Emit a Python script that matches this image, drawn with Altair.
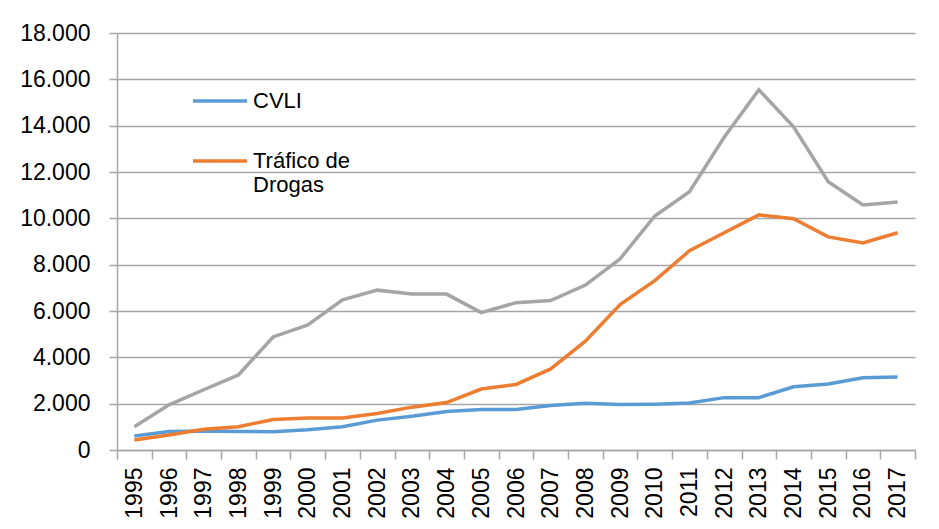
import altair as alt
import pandas as pd

years = [str(y) for y in range(1995, 2018)]
cvli = [600, 800, 820, 800, 790, 870, 1000, 1290, 1460, 1660, 1750, 1750, 1920, 2020,
        1960, 1980, 2030, 2260, 2260, 2730, 2850, 3120, 3150]
trafico = [430, 650, 900, 1000, 1320, 1380, 1380, 1580, 1850, 2050, 2630, 2830, 3500, 4700,
           6280, 7310, 8600, 9380, 10150, 9980, 9200, 8940, 9380]
outros = [1000, 1950, 2600, 3240, 4880, 5400, 6480, 6900, 6730, 6730, 5930, 6360, 6450, 7120,
          8250, 10100, 11150, 13500, 15550, 13950, 11580, 10580, 10710]

series_names = ["CVLI", "Tráfico de Drogas", "Outros"]
colors = ["#5B9BD5", "#ED7D31", "#A5A5A5"]

rows = []
for name, vals in zip(series_names, [cvli, trafico, outros]):
    for y, v in zip(years, vals):
        rows.append({"Ano": y, "Serie": name, "Valor": v})
df = pd.DataFrame(rows)

FONT = "Liberation Sans"

chart = alt.Chart(df).mark_line(strokeWidth=3.5).encode(
    x=alt.X("Ano:O", title=None, bandPosition=0.5,
            scale=alt.Scale(type="band", paddingInner=0, paddingOuter=0),
            axis=alt.Axis(labelAngle=-90, labelAlign="right", labelBaseline="middle",
                          tickBand="extent", tickSize=9, tickColor="#A6A6A6",
                          domainColor="#A6A6A6", labelPadding=8, labelFontSize=23,
                          labelColor="#000000", labelFont=FONT, grid=False)),
    y=alt.Y("Valor:Q", title=None,
            scale=alt.Scale(domain=[0, 18000], nice=False),
            axis=alt.Axis(values=list(range(0, 18001, 2000)), tickSize=8,
                          tickColor="#A6A6A6", domainColor="#A6A6A6",
                          gridColor="#A6A6A6", gridWidth=1.5, labelPadding=19,
                          labelFontSize=23, labelColor="#000000", labelFont=FONT,
                          labelExpr="datum.value == 0 ? '0' : replace(format(datum.value, ',d'), ',', '.')")),
    color=alt.Color("Serie:N", scale=alt.Scale(domain=series_names, range=colors),
                    legend=alt.Legend(title=None, orient="none", legendX=74, legendY=39,
                                      values=["CVLI", "Tráfico de Drogas"],
                                      symbolType="stroke", symbolSize=2916,
                                      symbolStrokeWidth=3.5, labelOffset=4,
                                      labelFontSize=22, labelFont=FONT, labelColor="#000000",
                                      rowPadding=20, labelLimit=300,
                                      labelExpr="datum.label == 'Tráfico de Drogas' ? ['Tráfico de', 'Drogas'] : datum.label")),
    order=alt.Order("Serie:N")
).properties(
    width=798, height=417,
    autosize=alt.AutoSizeParams(type="none"),
    padding={"left": 109, "top": 25, "right": 16, "bottom": 70}
).configure_view(
    stroke=None
).configure_axis(
    domainWidth=1.5, tickWidth=1.5
)

chart.save("out.html", embed_options={"renderer": "svg", "actions": False})
